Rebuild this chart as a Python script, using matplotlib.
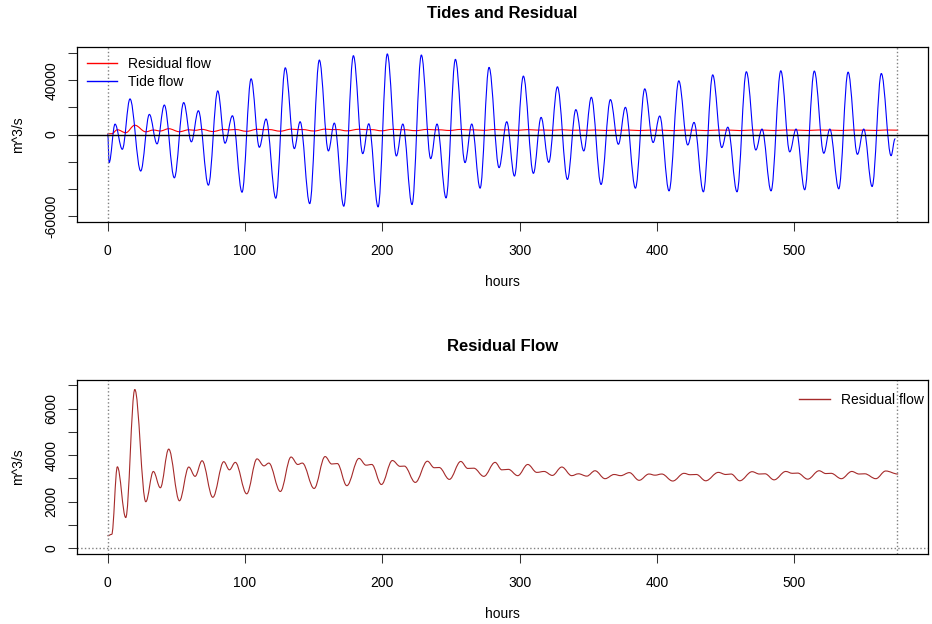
import numpy as np
import matplotlib; matplotlib.use("Agg")
import matplotlib.pyplot as plt
from matplotlib.path import Path
from matplotlib.patches import PathPatch
from matplotlib.lines import Line2D

plt.rcParams['font.family'] = ['Liberation Sans', 'DejaVu Sans']

# tide flow: successive turning points (hours, m^3/s)
tide_t = [0, 1.0, 5.3, 10.6, 16.2, 24.0, 30.3, 35.9, 41.2, 48.5, 55.3, 60.9, 66.0, 73.3, 80.1,
          85.4, 90.8, 97.8, 104.4, 110.4, 115.3, 122.4, 129.3, 135.9, 140.1, 147.1, 154.1, 160.7,
          165.0, 171.9, 178.9, 185.7, 190.1, 196.9, 203.6, 210.2, 214.9, 221.6, 228.4, 235.2,
          239.8, 246.4, 253.2, 260.2, 265.1, 271.2, 277.7, 285.0, 290.6, 296.2, 302.7, 310.0,
          315.6, 321.2, 327.5, 334.8, 340.9, 346.7, 352.2, 359.3, 366.1, 371.9, 377.0, 384.3,
          391.1, 397.2, 402.0, 408.8, 415.9, 422.4, 427.0, 433.8, 440.6, 447.2, 451.6, 458.3,
          465.1, 472.0, 476.5, 483.1, 490.2, 496.7, 501.3, 507.6, 514.6, 521.5, 525.9, 532.4,
          539.2, 546.0, 550.6, 556.7, 563.4, 570.5, 573.4]
tide_v = [0, -20700, 7650, -10900, 26200, -26900, 14800, -6900, 21700, -31900, 23500, -5400,
          17500, -37300, 32100, -6400, 13800, -42500, 41000, -9400, 11400, -46900, 49100, -10400,
          9400, -50900, 54800, -12100, 8400, -52800, 58000, -14100, 7900, -53300, 59300, -15800,
          7700, -51600, 58500, -17800, 7700, -46700, 55300, -20700, 7700, -39500, 49400, -24400,
          9400, -30600, 43000, -28600, 12600, -20500, 35100, -33100, 18300, -12100, 27400, -36800,
          25700, -7200, 20000, -39500, 33600, -5900, 13600, -41500, 39500, -7700, 8900, -42200,
          43900, -9600, 5400, -42200, 46200, -11400, 4000, -41500, 46900, -12800, 4000, -40700,
          46700, -13800, 4000, -40000, 45900, -14600, 4000, -38300, 44900, -15600, -3200]

# residual flow turning points
res_t = [0, 2.9, 7.0, 13.1, 19.7, 27.7, 33.2, 38.3, 44.4, 52.2, 59.0, 63.6, 68.7, 76.5, 84.5,
         88.6, 92.9, 101.2, 108.7, 113.8, 117.3, 125.7, 133.5, 138.4, 141.7, 150.3, 158.3, 163.1,
         167.2, 174.1, 183.0, 188.1, 192.3, 199.3, 207.3, 212.9, 216.0, 224.0, 232.8, 237.8,
         241.4, 248.8, 257.1, 262.2, 266.6, 273.9, 282.1, 287.0, 291.8, 298.6, 305.9, 312.5,
         317.8, 323.8, 330.7, 337.9, 342.8, 348.9, 354.9, 362.2, 368.8, 373.6, 379.9, 387.0,
         394.2, 398.6, 403.5, 411.5, 419.7, 424.1, 428.7, 435.5, 444.7, 450.1, 454.0, 460.3,
         469.3, 474.6, 478.7, 485.3, 493.8, 498.6, 502.5, 509.8, 518.1, 523.0, 526.8, 534.3,
         541.9, 547.2, 551.3, 559.4, 566.6, 575.4]
res_v = [540, 600, 3500, 1320, 6820, 2000, 3300, 2600, 4260, 2040, 3490, 3090, 3760, 2190, 3720,
         3370, 3690, 2340, 3840, 3540, 3660, 2440, 3920, 3600, 3660, 2570, 3940, 3620, 3640, 2690,
         3860, 3570, 3600, 2740, 3770, 3520, 3530, 2830, 3740, 3460, 3470, 2960, 3730, 3430, 3440,
         3090, 3690, 3370, 3390, 3120, 3600, 3260, 3300, 3130, 3490, 3120, 3200, 3100, 3330, 2990,
         3170, 3120, 3250, 2920, 3190, 3140, 3190, 2890, 3220, 3160, 3170, 2900, 3260, 3170, 3190,
         2900, 3290, 3190, 3200, 2940, 3300, 3220, 3230, 2970, 3330, 3210, 3220, 2990, 3300, 3190,
         3200, 2990, 3320, 3190]

x_ticks = [0, 100, 200, 300, 400, 500]
top_yticks = [-60000, -40000, -20000, 0, 20000, 40000, 60000]
top_ylabels = ['-60000', '', '', '0', '', '40000', '']
bot_yticks = [0, 1000, 2000, 3000, 4000, 5000, 6000, 7000]
bot_ylabels = ['0', '', '2000', '', '4000', '', '6000', '']
t_end = 575


def wave(ax, t, v, color):
    # smooth curve through turning points, flat tangent at each one (cubic bezier)
    k = 1 - 2 / np.pi
    verts = [(t[0], v[0])]
    codes = [Path.MOVETO]
    for i in range(1, len(t)):
        d = t[i] - t[i - 1]
        verts += [(t[i - 1] + k * d, v[i - 1]), (t[i] - k * d, v[i]), (t[i], v[i])]
        codes += [Path.CURVE4] * 3
    ax.add_patch(PathPatch(Path(verts, codes), fill=False, edgecolor=color, lw=0.8,
                           capstyle='round', joinstyle='round'))


def style(ax, yt, yl, h):
    ax.set_xticks(x_ticks)
    ax.set_yticks(yt)
    ax.set_yticklabels(yl)
    ax.tick_params(direction='out', length=6.5, width=0.75, labelsize=10, color='#333333')
    ax.tick_params(axis='x', pad=9)
    ax.tick_params(axis='y', pad=7)
    for lab in ax.get_yticklabels():
        lab.set_rotation(90)
        lab.set_va('center')
    for s in ax.spines.values():
        s.set_linewidth(0.9)
    ax.set_xlabel('hours', fontsize=10)
    ax.xaxis.set_label_coords(0.5, -60 / h)
    ax.xaxis.label.set_va('center')
    ax.set_ylabel('m^3/s', fontsize=10)
    ax.yaxis.set_label_coords(-59 / 851, 0.5)
    ax.yaxis.label.set_va('center')


fig = plt.figure(figsize=(9.32, 6.24), dpi=100)
ax1 = fig.add_axes([77 / 932, 1 - 222 / 624, 851 / 932, 175 / 624])
ax2 = fig.add_axes([77 / 932, 1 - 554 / 624, 851 / 932, 174 / 624])

# top panel
ax1.set_xlim(-22.4, 597.4)
ax1.set_ylim(-64400, 64400)
ax1.axvline(0, color='gray', ls=':', lw=1)
ax1.axvline(t_end, color='gray', ls=':', lw=1)
wave(ax1, res_t, res_v, 'red')
wave(ax1, tide_t, tide_v, 'blue')
ax1.axhline(0, color='black', lw=1)
style(ax1, top_yticks, top_ylabels, 175)
ax1.set_title('Tides and Residual', fontsize=12, fontweight='bold', y=1 + 29 / 175, va='baseline', pad=0)
ax1.legend([Line2D([], [], color='red', lw=1), Line2D([], [], color='blue', lw=1)],
           ['Residual flow', 'Tide flow'], loc='upper left', frameon=False, fontsize=10,
           handlelength=2.2, handletextpad=0.8, borderaxespad=0.3, labelspacing=0.3)

# bottom panel
ax2.set_xlim(-22.4, 597.4)
ax2.set_ylim(-244, 7227)
ax2.axhline(0, color='gray', ls=':', lw=1)
ax2.axvline(0, color='gray', ls=':', lw=1)
ax2.axvline(t_end, color='gray', ls=':', lw=1)
wave(ax2, res_t, res_v, 'brown')
style(ax2, bot_yticks, bot_ylabels, 174)
ax2.set_title('Residual Flow', fontsize=12, fontweight='bold', y=1 + 29 / 174, va='baseline', pad=0)
ax2.legend([Line2D([], [], color='brown', lw=1)], ['Residual flow'], loc='upper right',
           bbox_to_anchor=(1.0, 1.0 - 9 / 174), frameon=False, fontsize=10, handlelength=2.2,
           handletextpad=0.8, borderaxespad=0.0, borderpad=0.3)

fig.savefig('out.png', dpi=100)
